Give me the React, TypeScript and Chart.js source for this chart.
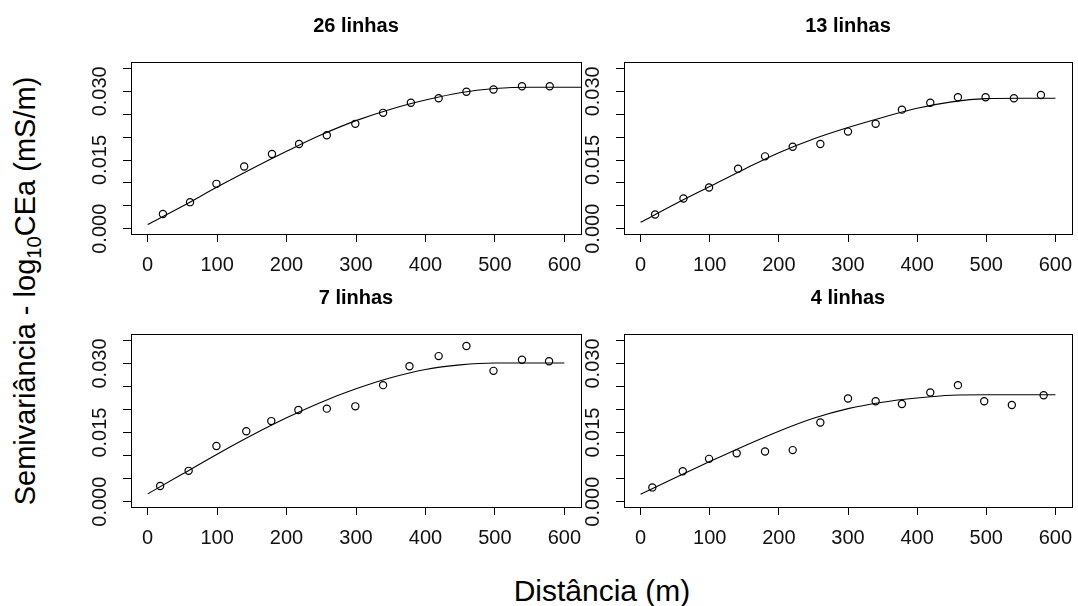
import React, { useEffect, useRef } from "react";
import { Chart, registerables } from "chart.js";

Chart.register(...registerables);

const FONT = '"Liberation Sans", Arial, Helvetica, sans-serif';

const panelTitles = ["26 linhas", "13 linhas", "7 linhas", "4 linhas"];

const xTicks = [0, 100, 200, 300, 400, 500, 600];
const xTickLabels = ["0", "100", "200", "300", "400", "500", "600"];
const yTicks = [0, 0.005, 0.01, 0.015, 0.02, 0.025, 0.03, 0.035];
const yTickLabels = ["0.000", "", "", "0.015", "", "", "0.030", ""];

// experimental semivariogram (lag distance, semivariance)
const lag26 = [22, 61, 99, 139, 179, 218, 258, 299, 339, 379, 419, 459, 498, 539, 579];
const gamma26 = [0.0032, 0.0058, 0.0098, 0.0136, 0.0163, 0.0185, 0.0204, 0.0229, 0.0253, 0.0275, 0.0285, 0.0299, 0.0304, 0.0311, 0.0311];

const lag13 = [21, 62, 99, 141, 180, 220, 260, 300, 340, 378, 419, 459, 499, 540, 579];
const gamma13 = [0.0031, 0.0066, 0.009, 0.0131, 0.0158, 0.0179, 0.0185, 0.0212, 0.0229, 0.026, 0.0275, 0.0287, 0.0287, 0.0285, 0.0292];

const lag7 = [18, 59, 99, 142, 178, 217, 258, 299, 339, 377, 419, 459, 498, 539, 578];
const gamma7 = [0.0034, 0.0067, 0.0121, 0.0153, 0.0175, 0.0199, 0.0202, 0.0207, 0.0253, 0.0294, 0.0316, 0.0338, 0.0284, 0.0308, 0.0305];

const lag4 = [17, 61, 99, 139, 180, 220, 260, 300, 340, 378, 419, 459, 497, 537, 583];
const gamma4 = [0.0031, 0.0066, 0.0093, 0.0105, 0.0109, 0.0112, 0.0172, 0.0224, 0.0218, 0.0212, 0.0237, 0.0253, 0.0218, 0.021, 0.0231];

// fitted model curves
const curveX = [0, 50, 100, 150, 200, 250, 300, 350, 400, 450, 500, 550, 600];
const curveX26 = [0, 50, 100, 150, 200, 250, 300, 350, 400, 450, 500, 550, 600, 630];
const fit26 = [0.0009, 0.0049, 0.0091, 0.0131, 0.0169, 0.0205, 0.0236, 0.0261, 0.0281, 0.0297, 0.0306, 0.0309, 0.0309, 0.0309];
const fit13 = [0.0014, 0.0054, 0.0092, 0.013, 0.0166, 0.0196, 0.0221, 0.0243, 0.0263, 0.0277, 0.0284, 0.0285, 0.0285];
const fit7 = [0.0017, 0.006, 0.0103, 0.0144, 0.0182, 0.0216, 0.0245, 0.0269, 0.0287, 0.0297, 0.0301, 0.0301, 0.0301];
const fit4 = [0.0016, 0.0052, 0.0087, 0.0121, 0.0153, 0.0181, 0.0202, 0.0216, 0.0225, 0.0231, 0.0232, 0.0232, 0.0232];

const X_MIN = -24;
const X_MAX = 624;
const Y_MIN = -0.00115;
const Y_MAX = 0.0364;

const PAD_LEFT = 60;
const PAD_TOP = 62;
const PAD_RIGHT = 10;
const PAD_BOTTOM = 60;

const panelDecor = {
  id: "panelDecor",
  afterDraw(chart: any, _args: any, opts: any) {
    const { ctx, chartArea: a } = chart;
    const xs = chart.scales.x;
    const ys = chart.scales.y;
    ctx.save();
    ctx.strokeStyle = "#000";
    ctx.lineWidth = 1;
    ctx.strokeRect(a.left + 0.5, a.top + 0.5, a.right - a.left, a.bottom - a.top);

    ctx.fillStyle = "#111";
    ctx.font = `20px ${FONT}`;
    ctx.textAlign = "center";
    ctx.textBaseline = "alphabetic";
    xTicks.forEach((v, i) => {
      ctx.fillText(xTickLabels[i], xs.getPixelForValue(v), a.bottom + 37);
    });
    yTicks.forEach((v, i) => {
      const lbl = yTickLabels[i];
      if (!lbl) return;
      ctx.save();
      ctx.translate(a.left - 25, ys.getPixelForValue(v));
      ctx.rotate(-Math.PI / 2);
      ctx.fillText(lbl, 0, 0);
      ctx.restore();
    });

    ctx.fillStyle = "#000";
    ctx.font = `bold 20px ${FONT}`;
    ctx.fillText(opts.title, (a.left + a.right) / 2, a.top - 30);
    ctx.restore();
  },
};

type PanelProps = {
  title: string;
  lags: number[];
  gammas: number[];
  cx: number[];
  cy: number[];
  left: number;
  top: number;
  width: number;
  height: number;
};

function Panel({ title, lags, gammas, cx, cy, left, top, width, height }: PanelProps) {
  const ref = useRef<HTMLCanvasElement | null>(null);
  const cw = width + PAD_LEFT + PAD_RIGHT;
  const ch = height + PAD_TOP + PAD_BOTTOM;

  useEffect(() => {
    if (!ref.current) return;
    const setTicks = (vals: number[]) => (s: any) => {
      s.ticks = vals.map((v) => ({ value: v }));
    };
    const chart = new Chart(ref.current, {
      type: "scatter",
      data: {
        datasets: [
          {
            type: "line",
            data: cx.map((x, i) => ({ x, y: cy[i] })),
            borderColor: "#000",
            borderWidth: 1.1,
            pointRadius: 0,
            fill: false,
            cubicInterpolationMode: "monotone",
            order: 2,
          } as any,
          {
            type: "scatter",
            data: lags.map((x, i) => ({ x, y: gammas[i] })),
            pointStyle: "circle",
            pointRadius: 3.6,
            borderColor: "#000",
            borderWidth: 1.2,
            backgroundColor: "rgba(0,0,0,0)",
            order: 1,
          } as any,
        ],
      },
      options: {
        responsive: false,
        maintainAspectRatio: false,
        animation: false,
        layout: { padding: { left: 0, top: PAD_TOP, right: PAD_RIGHT, bottom: 0 } },
        plugins: {
          legend: { display: false },
          tooltip: { enabled: false },
          title: { display: false },
          panelDecor: { title },
        } as any,
        scales: {
          x: {
            type: "linear",
            min: X_MIN,
            max: X_MAX,
            afterBuildTicks: setTicks(xTicks),
            afterFit: (s: any) => {
              s.height = PAD_BOTTOM;
            },
            ticks: { display: false },
            grid: { drawOnChartArea: false, drawTicks: true, tickLength: 8, color: "#000", lineWidth: 1 },
            border: { display: false },
          } as any,
          y: {
            type: "linear",
            min: Y_MIN,
            max: Y_MAX,
            afterBuildTicks: setTicks(yTicks),
            afterFit: (s: any) => {
              s.width = PAD_LEFT;
            },
            ticks: { display: false },
            grid: { drawOnChartArea: false, drawTicks: true, tickLength: 8, color: "#000", lineWidth: 1 },
            border: { display: false },
          } as any,
        },
      },
      plugins: [panelDecor as any],
    });
    return () => chart.destroy();
  }, []);

  return (
    <canvas
      ref={ref}
      width={cw}
      height={ch}
      style={{ position: "absolute", left: left - PAD_LEFT, top: top - PAD_TOP, width: cw, height: ch }}
    />
  );
}

export default function App() {
  return (
    <div
      style={{
        position: "fixed",
        left: 0,
        top: 0,
        width: 1078,
        height: 606,
        background: "#fff",
        overflow: "hidden",
        fontFamily: FONT,
      }}
    >
      <Panel title={panelTitles[0]} lags={lag26} gammas={gamma26} cx={curveX26} cy={fit26} left={131} top={62} width={450} height={172} />
      <Panel title={panelTitles[1]} lags={lag13} gammas={gamma13} cx={curveX} cy={fit13} left={624} top={62} width={448} height={172} />
      <Panel title={panelTitles[2]} lags={lag7} gammas={gamma7} cx={curveX} cy={fit7} left={131} top={334} width={450} height={173} />
      <Panel title={panelTitles[3]} lags={lag4} gammas={gamma4} cx={curveX} cy={fit4} left={624} top={334} width={448} height={173} />
      <div
        style={{
          position: "absolute",
          left: 25,
          top: 291,
          transform: "translate(-50%, -50%) rotate(-90deg)",
          whiteSpace: "nowrap",
          fontSize: 29,
          lineHeight: 1,
          color: "#000",
        }}
      >
        Semivariância - log
        <span style={{ fontSize: "0.7em", position: "relative", top: "0.3em" }}>10</span>
        CEa (mS/m)
      </div>
      <div
        style={{
          position: "absolute",
          left: 602,
          top: 576,
          transform: "translateX(-50%)",
          whiteSpace: "nowrap",
          fontSize: 30,
          lineHeight: 1,
          color: "#000",
        }}
      >
        Distância (m)
      </div>
    </div>
  );
}
